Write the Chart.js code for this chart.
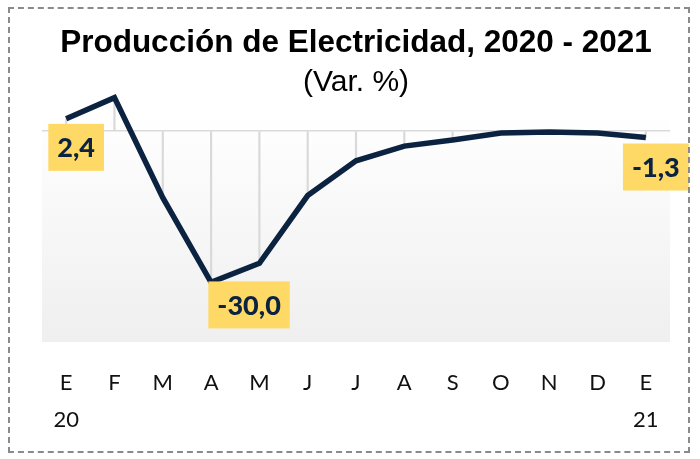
<!DOCTYPE html>
<html>
<head>
<meta charset="utf-8">
<script src="https://cdn.jsdelivr.net/npm/chart.js@4"></script>
<style>
  body { margin: 0; background: #fff; }
  #wrap { position: relative; width: 700px; height: 459px; }
  #frame { position: absolute; left: 8px; top: 7px; width: 682px; height: 446px;
           border: 2px dashed #8a8a8a; box-sizing: border-box; pointer-events: none; }
</style>
</head>
<body>
<div id="wrap">
  <canvas id="myChart" width="700" height="459"></canvas>
  <div id="frame"></div>
</div>
<script>
const months = ['E', 'F', 'M', 'A', 'M', 'J', 'J', 'A', 'S', 'O', 'N', 'D', 'E'];
const years = ['20', '', '', '', '', '', '', '', '', '', '', '', '21'];
const values = [2.4, 6.6, -13.2, -30.0, -26.2, -12.8, -5.9, -3.0, -1.8, -0.4, -0.2, -0.4, -1.3];
const labelled = [0, 3, 12];

const labels = months.map((m, i) => [m, years[i]]);

// plot background, light gradient
const bgPlugin = {
  id: 'bg',
  beforeDraw(chart) {
    const { ctx, chartArea: a } = chart;
    const g = ctx.createLinearGradient(0, a.top, 0, a.bottom);
    g.addColorStop(0, '#ffffff');
    g.addColorStop(1, '#efefef');
    ctx.save();
    ctx.fillStyle = g;
    ctx.fillRect(a.left, a.top, a.right - a.left, a.bottom - a.top);
    ctx.restore();
  }
};

// yellow value boxes
const boxOffsets = { 0: [10, 5], 3: [38, -1], 12: [10, 6] };
const labelPlugin = {
  id: 'valueBoxes',
  afterDatasetsDraw(chart) {
    const { ctx } = chart;
    const meta = chart.getDatasetMeta(1);
    ctx.save();
    ctx.font = '900 27px Lato';
    ctx.textAlign = 'center';
    ctx.textBaseline = 'middle';
    labelled.forEach(i => {
      const pt = meta.data[i];
      const txt = values[i].toFixed(1).replace('.', ',');
      const w = ctx.measureText(txt).width + 18;
      const h = 47;
      const [dx, dy] = boxOffsets[i];
      const cx = pt.x + dx;
      const top = pt.y + dy;
      ctx.fillStyle = '#ffd966';
      ctx.fillRect(cx - w / 2, top, w, h);
      ctx.fillStyle = '#0b2340';
      ctx.fillText(txt, cx, top + h / 2 + 1);
    });
    ctx.restore();
  }
};

const ctx = document.getElementById('myChart').getContext('2d');
new Chart(ctx, {
  data: {
    labels: labels,
    datasets: [
      {
        type: 'bar',
        data: values.map(v => [0, v]),
        backgroundColor: '#d9d9d9',
        barThickness: 1.5,
        clip: false,
        order: 2
      },
      {
        type: 'line',
        data: values,
        borderColor: '#0b2340',
        borderWidth: 5.5,
        pointRadius: 0,
        tension: 0,
        clip: false,
        order: 1
      }
    ]
  },
  options: {
    responsive: false,
    animation: false,
    layout: { padding: { left: 42, right: 30, top: 0, bottom: 0 } },
    plugins: {
      legend: { display: false },
      tooltip: { enabled: false },
      title: {
        display: true,
        text: 'Producción de Electricidad, 2020 - 2021',
        color: '#000',
        font: { family: 'Liberation Sans', size: 31.5, weight: 'bold' },
        padding: { top: 24, bottom: 0 }
      },
      subtitle: {
        display: true,
        text: '(Var. %)',
        color: '#000',
        font: { family: 'Liberation Sans', size: 30 },
        padding: { top: 3, bottom: 13 }
      }
    },
    scales: {
      x: {
        offset: true,
        grid: { display: false },
        border: { display: false },
        ticks: {
          color: '#111',
          font: { family: 'Lato', size: 22, lineHeight: 1.65 },
          padding: 15,
          maxRotation: 0,
          autoSkip: false
        },
        afterFit(scale) { scale.height = 117; }
      },
      y: {
        min: -41.8,
        max: 3.4,
        ticks: { display: false, stepSize: 10 },
        border: { display: false },
        grid: {
          drawTicks: false,
          lineWidth: 1.5,
          color: c => (c.tick && c.tick.value === 0 ? '#d9d9d9' : 'transparent')
        },
        afterFit(scale) { scale.width = 0; }
      }
    }
  },
  plugins: [bgPlugin, labelPlugin]
});
</script>
</body>
</html>
